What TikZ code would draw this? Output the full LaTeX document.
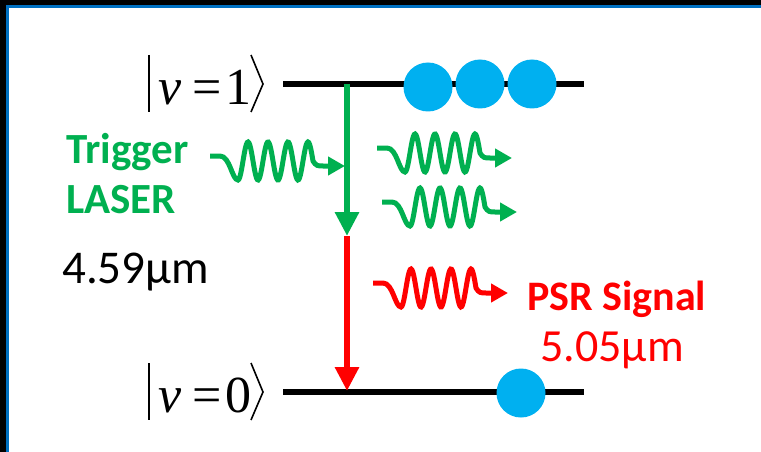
\documentclass[tikz,border=0pt]{standalone}
\usepackage{fontspec}
\setmainfont{Carlito}
\newfontfamily\tnr{Liberation Serif}
\usetikzlibrary{arrows.meta}
\definecolor{lgreen}{HTML}{00B050}
\definecolor{lred}{HTML}{FF0000}
\definecolor{lblue}{HTML}{00B0F0}
\definecolor{fblue}{HTML}{0070C0}
\tikzset{
  level/.style={line width=6pt, draw=black},
  atom/.style={circle, fill=lblue, draw=none, minimum size=49pt, inner sep=0pt},
  trans/.style={line width=6pt, -{Triangle[length=24pt,width=23pt]}},
  lbl/.style={inner sep=0pt, anchor=base west},
  ketch/.style={inner sep=0pt, anchor=base, font=\fontsize{52}{60}\selectfont\tnr},
  ketline/.style={line width=1.6pt, black},
  photon/.pic={
    \draw[line width=5pt, -{Triangle[length=17pt,width=18pt]}, pic actions]
      (0,0) -- (10,0) .. controls (20,0) and (22,24) .. (28,24)
      -- plot[domain=28:103, samples=90, smooth] (\x, {5+19*cos(18*(\x-28))})
      .. controls (106,10) and (108,10) .. (113,10) -- (135,10);
  }
}
\begin{document}
\begin{tikzpicture}[x=1pt, y=-1pt]
\useasboundingbox (0,0) rectangle (761,452);
\fill[white] (0,0) rectangle (761,452);
% frame
\fill[black] (0,0) rectangle (761,5);
\fill[black] (0,0) rectangle (6,452);
\fill[fblue] (6,5) rectangle (761,8);
\fill[fblue] (6,5) rectangle (9,452);

% levels
\coordinate (t1) at (283,84);
\coordinate (t2) at (584,84);
\coordinate (b1) at (283,392);
\coordinate (b2) at (584,392);
\draw[level] (t1) -- (t2);
\draw[level] (b1) -- (b2);

% atoms
\node[atom] (a1) at (428,87) {};
\node[atom] (a2) at (480,84) {};
\node[atom] (a3) at (532,84) {};
\node[atom] (a4) at (521,393) {};

% kets
\foreach \dy/\n/\d in {0/1/1, 308/0/0} {
  \begin{scope}[yshift=-\dy pt]
    \coordinate (bar\n a) at (149,55);
    \coordinate (bar\n b) at (149,112);
    \coordinate (ang\n a) at (251,55);
    \coordinate (ang\n b) at (263,84);
    \coordinate (ang\n c) at (251,112);
    \draw[ketline] (bar\n a) -- (bar\n b);
    \draw[ketline] (ang\n a) -- (ang\n b) -- (ang\n c);
    \node[ketch] (v\n) at (170,104) {\itshape v};
    \node[ketch] (eq\n) at (207,104) {=};
    \node[ketch] (num\n) at (238,104) {\d};
  \end{scope}
}

% transitions
\coordinate (g1) at (347,84);
\coordinate (g2) at (347,236);
\coordinate (r2) at (347,391);
\draw[trans, lred] (g2) -- (r2);
\draw[trans, lgreen] (g1) -- (g2);

% photons
\pic[lgreen] at (210,156) {photon};
\pic[lgreen] at (377,148) {photon};
\pic[lgreen] at (382,202) {photon};
\pic[lred] at (373,283) {photon};

% labels
\node[lbl, text=lgreen, font=\fontsize{43}{50}\selectfont\bfseries] (trig) at (66,163) {Trigger};
\node[lbl, text=lgreen, font=\fontsize{43}{50}\selectfont\bfseries] (las) at (66,213) {LASER};
\node[lbl, text=black, font=\fontsize{47}{54}\selectfont] (w1) at (62,283) {4.59µm};
\node[lbl, text=lred, font=\fontsize{42}{50}\selectfont\bfseries] (psr) at (527,310) {PSR Signal};
\node[lbl, text=lred, font=\fontsize{46}{54}\selectfont] (w2) at (540,361) {5.05µm};
\end{tikzpicture}
\end{document}
